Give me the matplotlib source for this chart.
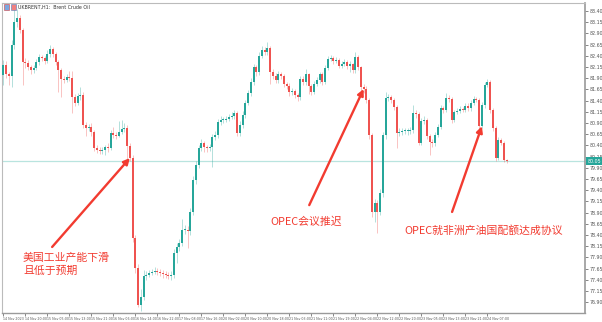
import matplotlib.pyplot as plt
import matplotlib.transforms as mtransforms
import numpy as np

plt.rcParams['font.family'] = ['Noto Sans CJK SC', 'DejaVu Sans']

# hourly Brent bars
first_open = 81.97
closes = [
    82.19, 81.99, 81.95, 82.64, 83.15, 83.24, 82.98, 82.26, 82.24, 82.15,
    82.08, 82.13, 82.26, 82.37, 82.35, 82.28, 82.44, 82.55, 82.44, 82.26,
    82.08, 81.88, 81.86, 81.93, 81.90, 81.48, 81.35, 81.50, 81.53, 80.86,
    80.79, 80.81, 80.70, 80.34, 80.30, 80.28, 80.30, 80.36, 80.34, 80.68,
    80.63, 80.61, 80.70, 80.77, 80.79, 80.39, 80.12, 78.33, 77.66, 76.84,
    77.02, 77.49, 77.51, 77.55, 77.57, 77.60, 77.57, 77.55, 77.53, 77.51,
    77.49, 77.51, 78.00, 78.13, 78.22, 78.51, 78.51, 78.49, 78.91, 79.63,
    79.96, 80.34, 80.45, 80.36, 80.34, 80.36, 80.59, 80.63, 80.92, 80.97,
    80.97, 80.99, 81.03, 81.06, 81.12, 80.68, 80.86, 81.08, 81.35, 81.57,
    81.82, 82.15, 82.04, 82.40, 82.53, 82.48, 82.57, 82.04, 81.95, 81.86,
    81.99, 81.95, 81.77, 81.73, 81.59, 81.61, 81.53, 81.48, 81.88, 81.82,
    81.99, 81.73, 81.59, 81.77, 81.86, 81.99, 81.82, 82.13, 82.33, 82.35,
    82.28, 82.31, 82.17, 82.22, 82.26, 82.17, 82.22, 82.08, 82.37, 82.15,
    81.70, 81.66, 81.41, 80.63, 78.91, 79.11, 78.91, 79.33, 80.63, 81.46,
    81.48, 81.41, 81.26, 80.68, 80.70, 80.72, 80.72, 80.72, 80.74, 81.12,
    81.10, 80.45, 80.95, 80.97, 80.61, 80.48, 80.45, 80.63, 80.81, 81.23,
    81.19, 81.46, 81.44, 80.97, 81.14, 81.17, 81.21, 81.19, 81.28, 81.23,
    81.35, 81.44, 81.41, 80.83, 81.30, 81.75, 81.82, 81.19, 80.79, 80.12,
    80.52, 80.45, 80.07, 80.05,
]
highs = [
    82.30, 82.28, 82.05, 82.75, 83.53, 83.45, 83.32, 83.02, 82.35, 82.30,
    82.20, 82.20, 82.32, 82.45, 82.42, 82.40, 82.52, 82.65, 82.60, 82.48,
    82.30, 82.13, 81.95, 82.00, 82.06, 82.06, 81.55, 81.58, 81.70, 81.60,
    80.92, 80.88, 80.90, 80.75, 80.40, 80.36, 80.36, 80.42, 80.45, 80.74,
    80.82, 80.70, 80.95, 80.97, 80.90, 80.85, 80.45, 80.18, 78.40, 77.75,
    77.20, 77.62, 77.60, 77.62, 77.65, 77.68, 77.66, 77.64, 77.62, 77.60,
    77.58, 77.60, 78.08, 78.22, 78.32, 78.75, 78.62, 78.60, 79.00, 79.72,
    80.05, 80.42, 80.55, 80.50, 80.42, 80.44, 80.66, 80.72, 81.00, 81.05,
    81.04, 81.06, 81.10, 81.14, 81.20, 81.16, 80.95, 81.16, 81.42, 81.64,
    81.90, 82.22, 82.20, 82.48, 82.62, 82.60, 82.72, 82.62, 82.10, 82.02,
    82.06, 82.05, 82.00, 81.82, 81.80, 81.68, 81.66, 81.58, 81.95, 81.94,
    82.10, 82.02, 81.78, 81.84, 81.92, 82.05, 82.03, 82.20, 82.40, 82.42,
    82.40, 82.38, 82.35, 82.28, 82.32, 82.30, 82.28, 82.25, 82.48, 82.42,
    82.18, 81.78, 81.72, 81.45, 80.68, 79.20, 79.18, 79.42, 80.70, 81.60,
    81.55, 81.52, 81.45, 81.30, 80.78, 80.80, 80.78, 80.80, 80.82, 81.30,
    81.20, 81.14, 81.02, 81.05, 81.02, 80.66, 80.55, 80.70, 80.88, 81.30,
    81.28, 81.56, 81.52, 81.48, 81.20, 81.24, 81.28, 81.26, 81.35, 81.34,
    81.42, 81.50, 81.48, 81.45, 81.38, 81.82, 81.88, 81.86, 81.24, 80.84,
    80.58, 80.56, 80.50, 80.10,
]
lows = [
    81.75, 81.90, 81.75, 81.70, 82.55, 83.05, 82.90, 81.75, 82.12, 82.08,
    82.00, 82.02, 82.08, 82.20, 82.28, 82.22, 82.25, 82.38, 82.38, 82.20,
    81.60, 81.48, 81.80, 81.82, 81.84, 81.12, 81.28, 81.30, 81.42, 80.80,
    80.62, 80.72, 80.62, 80.27, 80.24, 80.22, 80.22, 80.18, 80.26, 80.30,
    80.56, 80.55, 80.58, 80.66, 80.70, 80.07, 80.05, 78.25, 77.55, 76.79,
    76.70, 76.95, 77.40, 77.46, 77.50, 77.52, 77.50, 77.48, 77.45, 77.44,
    77.42, 77.40, 77.45, 77.78, 78.05, 78.15, 78.42, 78.10, 78.40, 78.85,
    79.55, 79.90, 80.28, 80.25, 80.26, 80.28, 79.92, 80.52, 80.56, 80.86,
    80.90, 80.92, 80.94, 80.98, 81.00, 80.60, 80.62, 80.80, 81.02, 81.30,
    81.50, 81.76, 81.96, 81.98, 82.35, 82.42, 82.42, 81.78, 81.88, 81.80,
    81.80, 81.88, 81.70, 81.66, 81.50, 81.52, 81.46, 81.40, 81.42, 81.76,
    81.75, 81.55, 81.52, 81.54, 81.72, 81.80, 81.76, 81.78, 82.08, 82.28,
    82.22, 82.24, 82.12, 82.12, 82.18, 82.10, 82.05, 82.02, 82.02, 82.08,
    81.62, 81.58, 81.35, 80.55, 78.80, 78.70, 78.45, 78.85, 79.25, 80.55,
    81.40, 81.35, 81.20, 80.34, 80.62, 80.64, 80.66, 80.64, 80.66, 80.68,
    81.02, 80.40, 80.40, 80.88, 80.55, 80.19, 80.36, 80.38, 80.58, 80.76,
    81.12, 81.14, 81.38, 80.90, 80.92, 81.10, 81.12, 81.14, 81.14, 81.18,
    81.18, 81.30, 81.36, 80.76, 80.78, 81.24, 81.70, 81.12, 80.72, 80.06,
    80.08, 80.40, 80.02, 80.00,
]
time_labels = [
    "14 Nov 2023", "14 Nov 20:00", "15 Nov 05:00", "15 Nov 13:00", "15 Nov 21:00",
    "16 Nov 06:00", "16 Nov 14:00", "16 Nov 22:00", "17 Nov 08:00", "17 Nov 16:00",
    "20 Nov 02:00", "20 Nov 10:00", "20 Nov 18:00", "21 Nov 03:00", "21 Nov 11:00",
    "21 Nov 19:00", "22 Nov 04:00", "22 Nov 12:00", "22 Nov 20:00", "23 Nov 05:00",
    "23 Nov 13:00", "23 Nov 21:00", "24 Nov 07:00",
]
price_ticks = np.round(np.arange(76.90, 83.41, 0.25), 2)

up_col = "#26a69a"
down_col = "#ef5350"
note_col = "#f23b30"

opens = [first_open] + closes[:-1]
n = len(closes)
x = np.arange(n)

fig = plt.figure(figsize=(6.02, 3.22), dpi=100)
ax = fig.add_axes([2 / 602, 9 / 322, 583 / 602, 310 / 322])

for i in range(n):
    o, c = opens[i], closes[i]
    col = up_col if c >= o else down_col
    ax.vlines(x[i], lows[i], highs[i], color=col, lw=0.7, alpha=0.35, zorder=2)
    body = max(abs(c - o), 0.015)
    ax.bar(x[i], body, bottom=min(o, c), width=0.72, color=col, lw=0, zorder=3)

# last price line and marker
last = closes[-1]
ax.axhline(last, color="#b9e4df", lw=0.9, zorder=1)
trans = mtransforms.blended_transform_factory(ax.transAxes, ax.transData)
ax.text(1.004, last, f"{last:.2f}", transform=trans, fontsize=3.4, color="white",
        va="center", ha="left", family="DejaVu Sans",
        bbox=dict(boxstyle="square,pad=0.25", fc=up_col, ec="none"), zorder=5)

ax.set_xlim(-0.5, 211.5)
ax.set_ylim(76.66, 83.58)

ax.yaxis.tick_right()
ax.set_yticks(price_ticks)
ax.set_yticklabels([f"{v:.2f}" for v in price_ticks])
ax.tick_params(axis="y", labelsize=3.4, colors="#555555", length=2, width=0.5, pad=1.2)
ax.set_xticks(x[::8][:len(time_labels)])
ax.set_xticklabels(time_labels, ha="left")
ax.tick_params(axis="x", labelsize=2.3, colors="#555555", length=2, width=0.5, pad=0.8)
for lab in ax.get_xticklabels() + ax.get_yticklabels():
    lab.set_family("DejaVu Sans")

for side in ["left", "top"]:
    ax.spines[side].set_color("#bbbbbb")
    ax.spines[side].set_linewidth(0.8)
ax.spines["right"].set_color("#9a9a9a")
ax.spines["right"].set_linewidth(1.2)
ax.spines["bottom"].set_color("#9a9a9a")
ax.spines["bottom"].set_linewidth(1.0)

# symbol caption with small chart icons
fig.patches.append(plt.Rectangle((4 / 602, 1 - 10 / 322), 5 / 602, 6 / 322,
                                 transform=fig.transFigure, fc="#7aa7e0", ec="#d04040", lw=0.4))
fig.patches.append(plt.Rectangle((10.5 / 602, 1 - 10 / 322), 5 / 602, 6 / 322,
                                 transform=fig.transFigure, fc="#f08080", ec="#5080c0", lw=0.4))
fig.text(18 / 602, 1 - 7 / 322, "UKBRENT,H1:  Brent Crude Oil", fontsize=3.4,
         color="#333333", va="center", family="DejaVu Sans")

# event notes
arrow = dict(arrowstyle="-|>", color=note_col, lw=1.7, mutation_scale=9,
             shrinkA=0, shrinkB=0)
ax.annotate("", xy=(46, closes[46]), xytext=(0.086, 0.213),
            textcoords="axes fraction", arrowprops=arrow, zorder=6)
ax.annotate("", xy=(131, closes[131]), xytext=(0.527, 0.348),
            textcoords="axes fraction", arrowprops=arrow, zorder=6)
ax.annotate("", xy=(174, closes[173]), xytext=(0.772, 0.326),
            textcoords="axes fraction", arrowprops=arrow, zorder=6)

ax.text(0.036, 0.156, "美国工业产能下滑\n且低于预期", transform=ax.transAxes,
        fontsize=7.8, color=note_col, va="center", ha="left", linespacing=1.35)
ax.text(0.460, 0.294, "OPEC会议推迟", transform=ax.transAxes,
        fontsize=7.8, color=note_col, va="center", ha="left")
ax.text(0.691, 0.265, "OPEC就非洲产油国配额达成协议", transform=ax.transAxes,
        fontsize=7.8, color=note_col, va="center", ha="left")

fig.savefig("out.png", dpi=100)
